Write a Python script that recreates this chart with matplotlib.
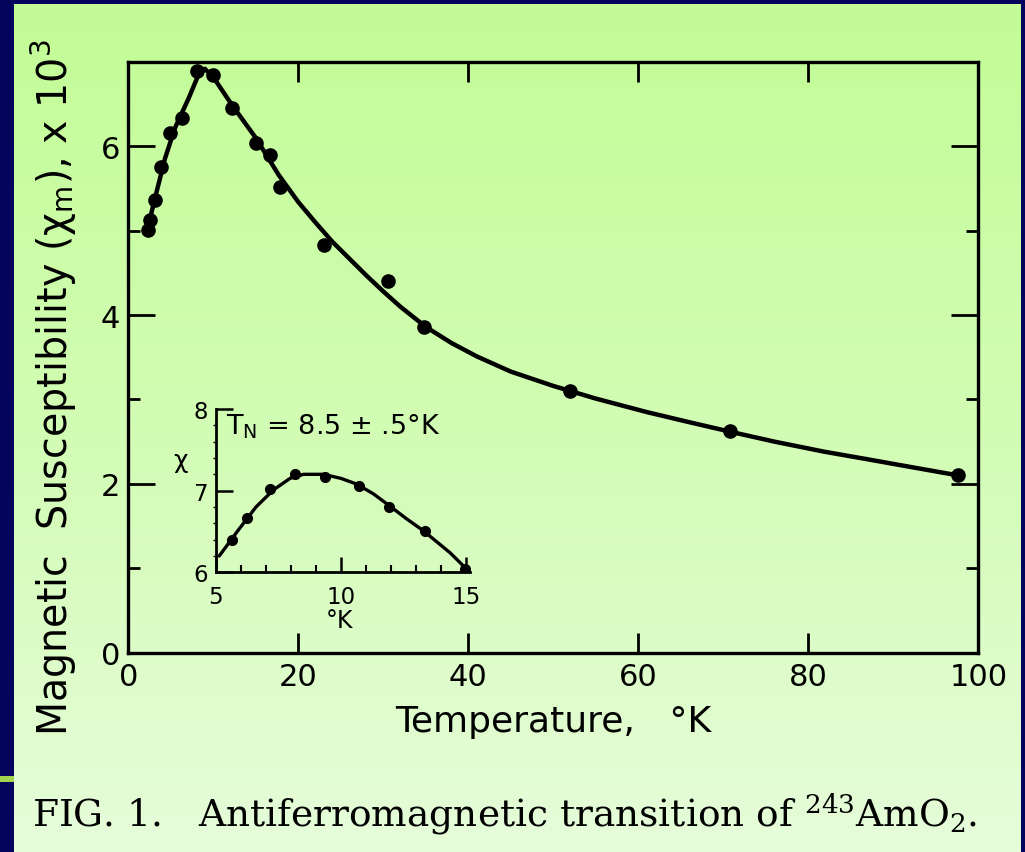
import matplotlib
matplotlib.use("Agg")
import matplotlib.pyplot as plt
import numpy as np
from matplotlib.colors import LinearSegmentedColormap
from matplotlib.patches import Rectangle

plt.rcParams['mathtext.default'] = 'regular'
plt.rcParams['font.family'] = ['DejaVu Sans']

# ---------------- data ----------------
# main panel: measured points
temp_pts = [2.3, 2.6, 3.1, 3.9, 4.9, 6.3, 8.1, 10.0, 12.2, 15.0, 16.7, 17.9, 23.0, 30.5, 34.8, 52.0, 70.8, 97.6]
chi_pts = [5.01, 5.13, 5.37, 5.76, 6.16, 6.34, 6.89, 6.85, 6.45, 6.04, 5.90, 5.52, 4.83, 4.40, 3.86, 3.10, 2.62, 2.11]
# main panel: drawn curve
temp_curve = [2.0, 2.4, 3.35, 4.33, 5.5, 7.1, 8.26, 9.0, 10.0, 12.2, 15.0, 17.7, 20.0, 22.0, 24.0, 26.0, 28.0,
              30.0, 32.0, 35.0, 38.0, 41.0, 45.0, 50.0, 55.0, 61.0, 66.0, 70.7, 76.0, 81.9, 87.0, 92.0, 97.6]
chi_curve = [4.98, 5.08, 5.47, 5.86, 6.22, 6.57, 6.85, 6.92, 6.82, 6.49, 6.10, 5.66, 5.34, 5.10, 4.87, 4.67, 4.47,
             4.28, 4.10, 3.86, 3.67, 3.51, 3.33, 3.16, 3.01, 2.85, 2.73, 2.62, 2.50, 2.38, 2.29, 2.20, 2.10]
x_ticks = [0, 20, 40, 60, 80, 100]
y_ticks = [0, 2, 4, 6]

# inset: measured points and curve
inset_temp_pts = [5.63, 6.25, 7.16, 8.16, 9.36, 10.73, 11.93, 13.36, 14.96]
inset_chi_pts = [6.39, 6.67, 7.02, 7.20, 7.17, 7.06, 6.80, 6.50, 6.04]
inset_temp_curve = [5.13, 5.9, 6.6, 7.3, 7.96, 8.5, 9.3, 10.0, 10.63, 11.3, 11.96, 12.6, 13.29, 14.36, 15.09]
inset_chi_curve = [6.20, 6.52, 6.80, 7.01, 7.15, 7.20, 7.20, 7.15, 7.08, 6.96, 6.81, 6.66, 6.51, 6.24, 6.02]
inset_x_ticks = [5, 10, 15]
inset_y_ticks = [6, 7, 8]

# ---------------- figure ----------------
W, H = 1025, 853
fig = plt.figure(figsize=(W / 100, H / 100), dpi=100)
fig.patch.set_facecolor('#04045c')


def fx(px):
    return px / W


def fy(py):
    return 1 - py / H


# decorative bar in left border
fig.patches.append(Rectangle((0, fy(783)), fx(14), fy(777) - fy(783), transform=fig.transFigure,
                             facecolor='#a3d450', edgecolor='none', zorder=-6))

# green gradient panel
bg = fig.add_axes([fx(14), 0, fx(1021) - fx(14), fy(5)], zorder=-5)
grad = np.linspace(0, 1, 256).reshape(-1, 1)
cmap = LinearSegmentedColormap.from_list('g', ['#c3fd96', '#d2fcb4', '#e6fcda'])
bg.imshow(grad, aspect='auto', cmap=cmap, extent=[0, 1, 0, 1], origin='upper')
bg.axis('off')

# main axes
ax = fig.add_axes([fx(128.3), fy(653.5), fx(978.3) - fx(128.3), fy(63) - fy(653.5)])
ax.set_facecolor('none')
ax.plot(temp_curve, chi_curve, color='black', lw=3.2, solid_capstyle='round', solid_joinstyle='round')
ax.plot(temp_pts, chi_pts, 'o', color='black', ms=9.5)
ax.set_xlim(0, 100)
ax.set_ylim(0, 7)
ax.set_xticks(x_ticks)
ax.set_yticks(y_ticks)
ax.set_yticks([1, 3, 5], minor=True)
ax.tick_params(axis='both', which='both', direction='in', top=True, right=True,
               colors='black', labelsize=22, width=2)
ax.tick_params(axis='y', which='major', length=19.5, pad=6)
ax.tick_params(axis='y', which='minor', length=8.5)
ax.tick_params(axis='x', which='major', length=14.5, pad=7)
for s in ax.spines.values():
    s.set_linewidth(2.4)

# inset axes
ax2 = fig.add_axes([fx(216), fy(573.3), fx(470) - fx(216), fy(410) - fy(573.3)])
ax2.set_facecolor('none')
ax2.plot(inset_temp_curve, inset_chi_curve, color='black', lw=2.4,
         solid_capstyle='round', solid_joinstyle='round')
ax2.plot(inset_temp_pts, inset_chi_pts, 'o', color='black', ms=7)
ax2.set_xlim(5, 15.16)
ax2.set_ylim(6, 8)
ax2.spines['top'].set_visible(False)
ax2.spines['right'].set_visible(False)
for s in ('left', 'bottom'):
    ax2.spines[s].set_linewidth(2)
ax2.set_xticks(inset_x_ticks)
ax2.set_xticks([6, 7, 8, 9, 11, 12, 13, 14], minor=True)
ax2.set_yticks(inset_y_ticks)
ax2.set_yticks(np.arange(6.2, 8.0, 0.2), minor=True)
ax2.tick_params(axis='x', which='major', direction='in', length=11, width=1.8, labelsize=16.5, pad=9)
ax2.tick_params(axis='x', which='minor', direction='in', length=5, width=1.5)
ax2.tick_params(axis='y', which='major', direction='in', length=12, width=1.8, labelsize=16.5, pad=6)
ax2.tick_params(axis='y', which='minor', direction='out', length=2.5, width=1.0)

fig.text(fx(226), fy(435), 'T$_N$ = 8.5 ± .5°K', fontsize=19.5, ha='left', va='baseline')
fig.text(fx(181), fy(461), 'χ', fontsize=18, ha='center', va='center')
fig.text(fx(340), fy(628), '°K', fontsize=17, ha='center', va='baseline')

# axis titles
fig.text(fx(553), fy(732), 'Temperature,   °K', fontsize=26, ha='center', va='baseline')
fig.text(fx(68), fy(387), 'Magnetic  Susceptibility (χ$_m$), x 10$^3$', fontsize=28.5,
         rotation=90, rotation_mode='anchor', ha='center', va='baseline')

# caption
fig.text(fx(32), fy(826), 'FIG. 1.   Antiferromagnetic transition of $^{243}$AmO$_2$.',
         family='DejaVu Serif', fontsize=27, ha='left', va='baseline')

fig.savefig('out.png', dpi=100, facecolor=fig.get_facecolor())
